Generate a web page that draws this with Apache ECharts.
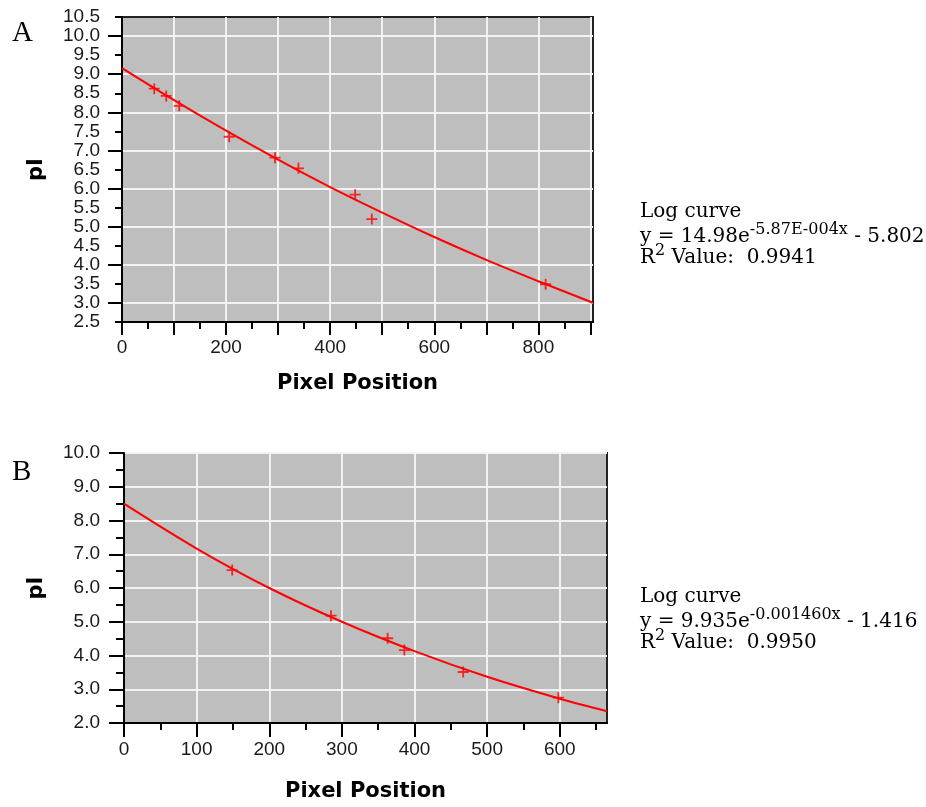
<!DOCTYPE html>
<html>
<head>
<meta charset="utf-8">
<script src="https://cdn.jsdelivr.net/npm/echarts@6/dist/echarts.min.js"></script>
<style>
  html, body { margin: 0; padding: 0; background: #ffffff; }
  #chart { width: 926px; height: 807px; }
</style>
</head>
<body>
<div id="chart"></div>
<script>
// ---- Panel A: measured pI values and fitted log curve ----
const pointsAX = [62, 85, 110, 206, 294, 339, 448, 480, 814];
const pointsAY = [8.62, 8.43, 8.17, 7.36, 6.81, 6.53, 5.84, 5.20, 3.49];
const curveAX = [0, 100, 200, 300, 400, 500, 600, 700, 800, 900, 905];
const curveAY = [9.16, 8.32, 7.52, 6.76, 6.04, 5.37, 4.73, 4.13, 3.57, 3.03, 3.00];

const xLabelsA = [0, 200, 400, 600, 800];
const xTicksA = [0, 100, 200, 300, 400, 500, 600, 700, 800, 900];
const xMinorA = [50, 150, 250, 350, 450, 550, 650, 750, 850];
const yLabelsA = [2.5, 3, 3.5, 4, 4.5, 5, 5.5, 6, 6.5, 7, 7.5, 8, 8.5, 9, 9.5, 10, 10.5];
const yTicksA = [3, 4, 5, 6, 7, 8, 9, 10];
const yMinorA = [2.5, 3.5, 4.5, 5.5, 6.5, 7.5, 8.5, 9.5, 10.5];

// ---- Panel B ----
const pointsBX = [149, 285, 363, 386, 467, 598];
const pointsBY = [6.53, 5.18, 4.51, 4.16, 3.51, 2.75];
const curveBX = [0, 100, 200, 300, 400, 500, 600, 665];
const curveBY = [8.50, 7.17, 6.00, 5.00, 4.13, 3.37, 2.72, 2.35];

const xLabelsB = [0, 100, 200, 300, 400, 500, 600];
const xTicksB = [0, 100, 200, 300, 400, 500, 600];
const xMinorB = [50, 150, 250, 350, 450, 550, 650];
const yLabelsB = [2, 3, 4, 5, 6, 7, 8, 9, 10];
const yTicksB = [2, 3, 4, 5, 6, 7, 8, 9, 10];
const yMinorB = [2.5, 3.5, 4.5, 5.5, 6.5, 7.5, 8.5, 9.5];

const zip = (xs, ys) => xs.map((x, i) => [x, ys[i]]);

const RED = '#ff0000';
const TICK_FONT = { fontFamily: 'Liberation Sans', fontSize: 19, color: '#1a1a1a' };
const TITLE_FONT = { fontFamily: 'DejaVu Sans', fontWeight: 'bold', fontSize: 21, color: '#000' };
const PLUS = 'path://M5,0H7V5H12V7H7V12H5V7H0V5H5Z';

function mainAxis(gridIndex, pos, min, max, ticks, labels, tickLen, margin, fmt, name, nameGap) {
  return {
    type: 'value', gridIndex, position: pos, min, max,
    axisLine: { show: true, onZero: false, lineStyle: { color: '#000', width: 2 } },
    axisTick: { show: true, customValues: ticks, length: tickLen, lineStyle: { color: '#000', width: 2 } },
    axisLabel: Object.assign({ customValues: labels, margin, formatter: fmt }, TICK_FONT),
    splitLine: { show: true, lineStyle: { color: '#f2f2f2', width: 2 } },
    name, nameLocation: 'middle', nameGap,
    nameRotate: (pos === 'left') ? 90 : 0,
    nameTextStyle: TITLE_FONT
  };
}

function minorAxis(gridIndex, pos, min, max, ticks, tickLen) {
  return {
    type: 'value', gridIndex, position: pos, min, max,
    axisLine: { show: false, onZero: false },
    axisTick: { show: true, customValues: ticks, length: tickLen, lineStyle: { color: '#000', width: 2 } },
    axisLabel: { show: false },
    splitLine: { show: false }
  };
}

const fmtInt = v => String(v);
const fmt1 = v => Number(v).toFixed(1);

// Rich text styles for the fit annotations
const RICH = {
  n: { fontFamily: 'DejaVu Serif', fontSize: 20, lineHeight: 26, verticalAlign: 'bottom', color: '#000' },
  s: { fontFamily: 'DejaVu Serif', fontSize: 16, lineHeight: 16, verticalAlign: 'top', padding: [1, 0, 0, 0], color: '#000' }
};
function note(x, y, text) {
  return { type: 'text', x, y, silent: true,
    style: { text, rich: RICH, align: 'left', verticalAlign: 'top' } };
}
function panelLetter(x, y, text) {
  return { type: 'text', x, y, silent: true,
    style: { text, fontFamily: 'Liberation Serif', fontSize: 29, fill: '#000', align: 'left', verticalAlign: 'middle' } };
}

const option = {
  animation: false,
  backgroundColor: '#ffffff',
  grid: [
    { left: 122, top: 17, width: 471, height: 305, show: true, backgroundColor: '#bebebe', borderColor: '#222', borderWidth: 2 },
    { left: 124, top: 453, width: 483, height: 270, show: true, backgroundColor: '#bebebe', borderColor: '#222', borderWidth: 2 }
  ],
  xAxis: [
    mainAxis(0, 'bottom', 0, 905, xTicksA, xLabelsA, 13, 16, fmtInt, 'Pixel Position', 51),
    minorAxis(0, 'bottom', 0, 905, xMinorA, 7),
    mainAxis(1, 'bottom', 0, 665, xTicksB, xLabelsB, 14, 17, fmtInt, 'Pixel Position', 58),
    minorAxis(1, 'bottom', 0, 665, xMinorB, 7)
  ],
  yAxis: [
    mainAxis(0, 'left', 2.5, 10.5, yTicksA, yLabelsA, 14, 22, fmt1, 'pI', 75),
    minorAxis(0, 'left', 2.5, 10.5, yMinorA, 7),
    mainAxis(1, 'left', 2, 10, yTicksB, yLabelsB, 15, 24, fmt1, 'pI', 77),
    minorAxis(1, 'left', 2, 10, yMinorB, 8)
  ],
  series: [
    { type: 'line', xAxisIndex: 0, yAxisIndex: 0, data: zip(curveAX, curveAY), smooth: 0.35,
      showSymbol: false, lineStyle: { color: RED, width: 2 }, z: 3 },
    { type: 'scatter', xAxisIndex: 0, yAxisIndex: 0, data: zip(pointsAX, pointsAY),
      symbol: PLUS, symbolSize: 11, itemStyle: { color: RED }, z: 4 },
    { type: 'line', xAxisIndex: 2, yAxisIndex: 2, data: zip(curveBX, curveBY), smooth: 0.35,
      showSymbol: false, lineStyle: { color: RED, width: 2 }, z: 3 },
    { type: 'scatter', xAxisIndex: 2, yAxisIndex: 2, data: zip(pointsBX, pointsBY),
      symbol: PLUS, symbolSize: 11, itemStyle: { color: RED }, z: 4 }
  ],
  graphic: [
    panelLetter(12, 33, 'A'),
    panelLetter(12, 472, 'B'),
    note(640, 196, '{n|Log curve}'),
    note(640, 221, '{n|y = 14.98e}{s|-5.87E-004x}{n| - 5.802}'),
    note(640, 242, '{n|R}{s|2}{n| Value:  0.9941}'),
    note(640, 581, '{n|Log curve}'),
    note(640, 606, '{n|y = 9.935e}{s|-0.001460x}{n| - 1.416}'),
    note(640, 627, '{n|R}{s|2}{n| Value:  0.9950}')
  ]
};

const chart = echarts.init(document.getElementById('chart'), null, { renderer: 'canvas' });
chart.setOption(option);
</script>
</body>
</html>
